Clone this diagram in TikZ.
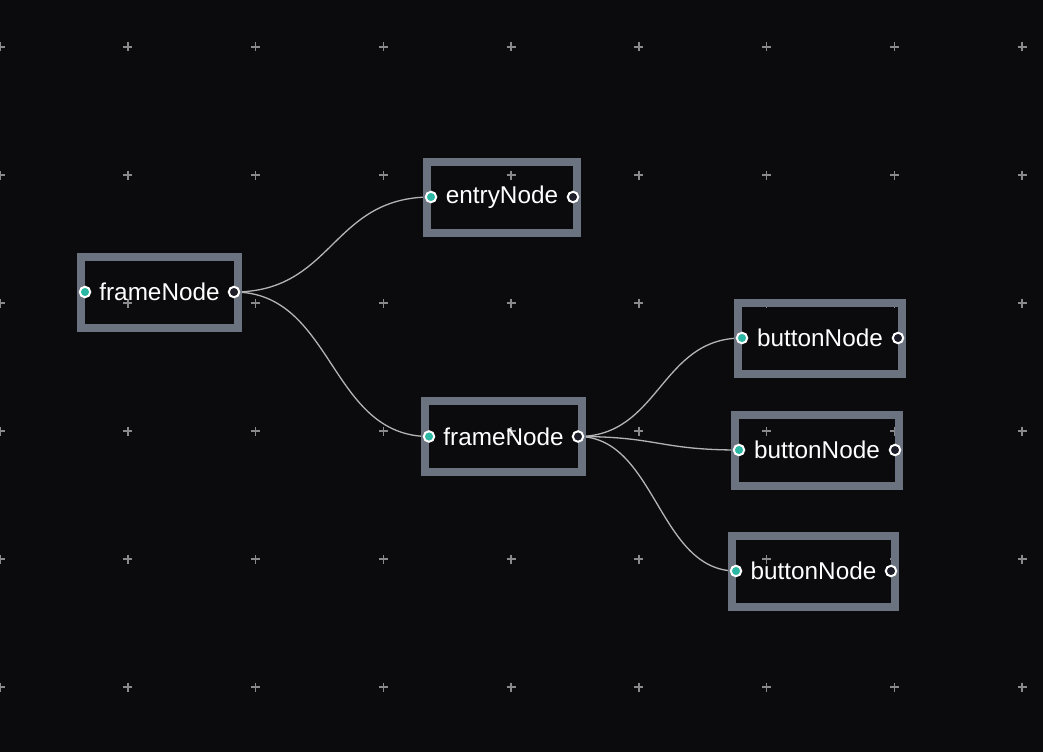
\documentclass[tikz,border=0pt]{standalone}
\usepackage{fontspec}
\setmainfont{Liberation Sans}
\usetikzlibrary{backgrounds}

\definecolor{canvasbg}{HTML}{0B0B0E}
\definecolor{nodeedge}{HTML}{6B7280}
\definecolor{wiregray}{HTML}{B4B4B4}
\definecolor{gridplus}{HTML}{8A8A8E}
\definecolor{portteal}{HTML}{2BB7A3}
\definecolor{portdark}{HTML}{1E1E2A}

\tikzset{
  widget/.style={draw=nodeedge, line width=8pt, minimum width=#1, minimum height=71pt,
    inner sep=0pt, text=white, font=\fontsize{24.3}{28}\selectfont},
  inport/.style={circle, fill=portteal, draw=white, line width=2pt, minimum size=10.5pt, inner sep=0pt},
  outport/.style={circle, fill=portdark, draw=white, line width=2pt, minimum size=10.5pt, inner sep=0pt},
  wire/.style={draw=wiregray, line width=1.3pt},
}

\begin{document}
\begin{tikzpicture}[x=1pt,y=-1pt]
\useasboundingbox (0,0) rectangle (1043,752);

\node[widget=157pt] (frame1) at (159.5,292) {frameNode};
\node[widget=150pt] (entry1) at (502,197) {entryNode};
\node[widget=157pt] (frame2) at (503.5,436.5) {frameNode};
\node[widget=164pt] (button1) at (820,338) {buttonNode};
\node[widget=164pt] (button2) at (817,450) {buttonNode};
\node[widget=163pt] (button3) at (813.5,571) {buttonNode};

\foreach \w in {frame1,entry1,frame2,button1,button2,button3}{
  \node[inport] (\w-in) at ([xshift=8pt]\w.west) {};
  \node[outport] (\w-out) at ([xshift=-8pt]\w.east) {};
}

\begin{pgfonlayer}{background}
\fill[canvasbg] (0,0) rectangle (1043,752);
% grid marks
\foreach \gx in {0,...,8}
  \foreach \gy in {0,...,5}
    \draw[gridplus, line width=1.5pt] (\gx*127.75-4.5, 47+\gy*128) -- ++(9,0)
      (\gx*127.75, 42.5+\gy*128) -- ++(0,9);
% links
\draw[wire] (frame1-out.center) .. controls +(100,0) and +(-100,0) .. (entry1-in.center);
\draw[wire] (frame1-out.center) .. controls +(100,0) and +(-100,0) .. (frame2-in.center);
\draw[wire] (frame2-out.center) .. controls +(82,0) and +(-82,0) .. (button1-in.center);
\draw[wire] (frame2-out.center) .. controls +(80,0) and +(-80,0) .. (button2-in.center);
\draw[wire] (frame2-out.center) .. controls +(78,0) and +(-78,0) .. (button3-in.center);
\end{pgfonlayer}
\end{tikzpicture}
\end{document}
